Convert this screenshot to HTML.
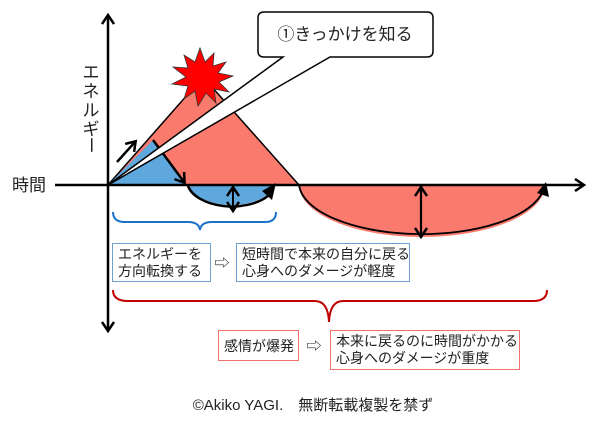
<!DOCTYPE html>
<html><head><meta charset="utf-8"><style>
html,body{margin:0;padding:0;background:#fff;width:600px;height:429px;overflow:hidden}
svg{display:block}
text{font-family:"Liberation Sans","Noto Sans CJK JP",sans-serif;fill:#222}
</style></head><body>
<svg width="600" height="429" viewBox="0 0 600 429" xmlns="http://www.w3.org/2000/svg">
<defs>
<marker id="ah" markerWidth="14" markerHeight="14" refX="10" refY="7" orient="auto-start-reverse" markerUnits="userSpaceOnUse" viewBox="0 0 14 14">
<path d="M2,1 L11,7 L2,13" fill="none" stroke="#000" stroke-width="2.5"/></marker>
</defs>
<!-- red triangle -->
<polygon points="108,185 203,77 299,185" fill="#fa7b6e" stroke="#000" stroke-width="1.5"/>
<!-- blue triangle -->
<polygon points="108,185 153,140 186,185" fill="#5fa8de"/>
<line x1="153" y1="140" x2="184" y2="182" stroke="#000" stroke-width="2.5" marker-end="url(#ah)"/>
<!-- small arrow -->
<line x1="117" y1="162" x2="135" y2="142" stroke="#000" stroke-width="2.5" marker-end="url(#ah)"/>
<!-- starburst -->
<polygon points="200,48 205,62 214,53 213,66 226,62 218,73 233,76 219,82 229,92 214,89 216,103 206,93 198,106 195,91 184,99 188,86 172,84 186,77 173,67 188,68 184,55 195,62" fill="#ff0000" stroke="#333" stroke-width="0.8"/>
<!-- callout -->
<path d="M264,12 H427 Q433,12 433,18 V51 Q433,57 427,57 H330 L108,185 L283,57 H264 Q258,57 258,51 V18 Q258,12 264,12 Z" fill="#fff" stroke="#000" stroke-width="1.5"/>
<text x="345" y="40" font-size="17" text-anchor="middle">①きっかけを知る</text>
<!-- blue half ellipse -->
<path d="M188,185 A45,26 0 0 0 274,188 L274,185 Z" fill="#5fa8de"/>
<path d="M188,186 A45,26 0 0 0 268,196" fill="none" stroke="#000" stroke-width="2.5"/>
<polygon points="262,191 276,183 272,200" fill="#000"/>
<line x1="233" y1="188" x2="233" y2="210" stroke="#000" stroke-width="2" marker-start="url(#ah)" marker-end="url(#ah)"/>
<!-- red half ellipse -->
<path d="M299,185 A123,52 0 0 0 545,185 Z" fill="#fa7b6e"/>
<path d="M299,185 A123,52 0 0 0 543,191" fill="none" stroke="#000" stroke-width="1.8"/>
<polygon points="537,193 546,182 549,197" fill="#000"/>
<line x1="421" y1="188" x2="421" y2="236" stroke="#000" stroke-width="2.2" marker-start="url(#ah)" marker-end="url(#ah)"/>
<!-- axes -->
<line x1="55" y1="185" x2="583" y2="185" stroke="#000" stroke-width="2.5" marker-end="url(#ah)"/>
<line x1="108" y1="185" x2="108" y2="16" stroke="#000" stroke-width="2.5" marker-end="url(#ah)"/>
<line x1="108" y1="184" x2="108" y2="330" stroke="#000" stroke-width="2.5" marker-end="url(#ah)"/>
<!-- labels -->
<text x="12" y="191" font-size="17">時間</text>
<g font-size="17" text-anchor="middle">
<text x="91" y="78">エ</text><text x="91" y="97">ネ</text><text x="91" y="116">ル</text><text x="91" y="135">ギ</text>
<text x="91" y="151" transform="rotate(90 91 145)">ー</text>
</g>
<!-- braces -->
<path d="M113,212 Q113,222 125,222 H188 Q199,222 200,230 Q201,222 212,222 H265 Q276,222 276,212" fill="none" stroke="#1a73c8" stroke-width="2"/>
<path d="M113,290 Q113,301 128,301 H315 Q328,301 329,322 Q330,301 343,301 H533 Q547,301 547,290" fill="none" stroke="#c00000" stroke-width="2"/>
<!-- boxes -->
<rect x="112.5" y="243.5" width="98" height="38" fill="#fff" stroke="#6fa0d0"/>
<text x="118" y="259" font-size="14">エネルギーを</text>
<text x="118" y="276" font-size="14">方向転換する</text>
<text x="222" y="268" font-size="15" text-anchor="middle">⇨</text>
<rect x="236.5" y="243.5" width="173" height="38" fill="#fff" stroke="#6fa0d0"/>
<text x="242" y="259" font-size="14">短時間で本来の自分に戻る</text>
<text x="242" y="276" font-size="14">心身へのダメージが軽度</text>
<rect x="218.5" y="330.5" width="80" height="30" fill="#fff" stroke="#f07070"/>
<text x="224" y="351" font-size="14">感情が爆発</text>
<text x="314" y="351" font-size="15" text-anchor="middle">⇨</text>
<rect x="330.5" y="330.5" width="189" height="39" fill="#fff" stroke="#f07070"/>
<text x="336" y="346" font-size="14">本来に戻るのに時間がかかる</text>
<text x="336" y="363" font-size="14">心身へのダメージが重度</text>
<text x="313" y="410" font-size="15" text-anchor="middle">©Akiko YAGI.　無断転載複製を禁ず</text>
</svg>
</body></html>
